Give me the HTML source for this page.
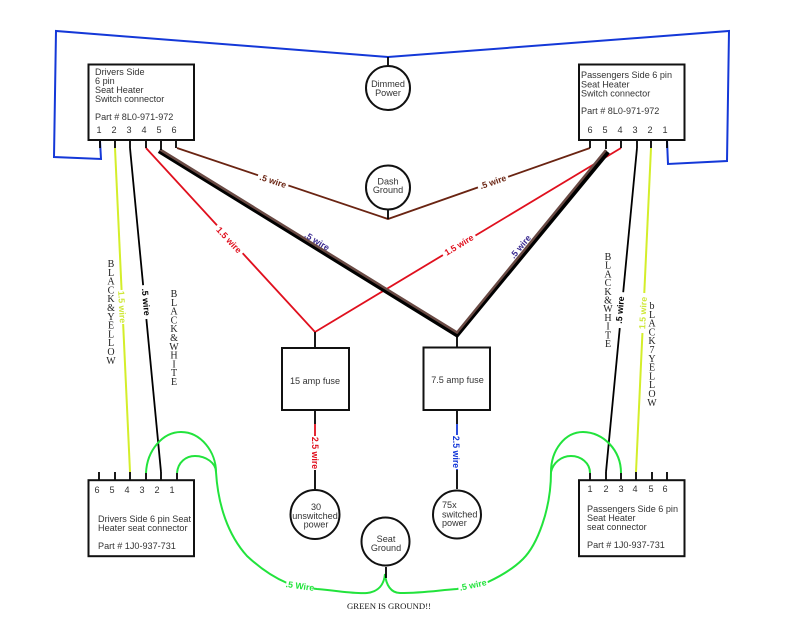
<!DOCTYPE html>
<html><head><meta charset="utf-8"><style>
html,body{margin:0;padding:0;background:#fff}
svg{display:block;filter:blur(.3px)}
.t{font:9.1px "Liberation Sans",sans-serif;fill:#333}
.m{text-anchor:middle}
.s{font:10px "Liberation Serif",serif;fill:#222;text-anchor:middle}
.w{font:bold 8.8px "Liberation Sans",sans-serif;text-anchor:middle}
</style></head><body>
<svg width="800" height="640" viewBox="0 0 800 640" xmlns="http://www.w3.org/2000/svg">
<rect width="800" height="640" fill="#fff"/>
<g transform="translate(316 243) rotate(31.500)"><text class="w" y="1" fill="#3a2a90">.5 wire</text></g>
<g transform="translate(522 248) rotate(-50)"><text class="w" y="1" fill="#3a2a90">.5 wire</text></g>
<g fill="none" stroke-linejoin="miter">
<!-- blue -->
<path d="M100 141L101 159L54 157L56 31L388 57L729 31L727 161L668 164L667 140" stroke="#1438d8" stroke-width="2"/>
<!-- brown -->
<path d="M177 148L388 219L590 148" stroke="#6a2412" stroke-width="1.800"/>
<!-- red -->
<path d="M146 148L315 332L621 148" stroke="#e0101e" stroke-width="1.800"/>
<!-- thick -->
<path d="M159 151L457 335L608 152" stroke="#000" stroke-width="4.500"/>
<path d="M160 149.500L457 332.500L606 150" stroke="#6a4a44" stroke-width="2.500"/>
<!-- yellow / black -->
<path d="M115 148L130 472" stroke="#d4ee2a" stroke-width="2"/>
<path d="M651 148L636 472" stroke="#d4ee2a" stroke-width="2"/>
<path d="M130 148L161 472" stroke="#000" stroke-width="1.800"/>
<path d="M637 148L606 472" stroke="#000" stroke-width="1.800"/>
<!-- green -->
<g stroke="#22e33c" stroke-width="2">
<path d="M146 473C147 450 163 432 181 432C201 432 216 452 216 472"/>
<path d="M177 473C178 462 186 456 195 456C206 456 216 463 216 472"/>
<path d="M216 472C218 505 228 535 247 556C262 570 275 578 287 583L300 587L317 589C340 591 355 594 367 593C378 592 384 585 385 574C386 585 391 593 400 593C425 593 440 590 457 589L473 585L488 582C505 574 515 567 523 559C537 545 551 510 551 472"/>
<path d="M551 472C551 450 565 432 583 432C603 432 621 450 621 473"/>
<path d="M551 472C553 463 561 456 571 456C581 456 590 463 590 473"/>
</g>
</g>
<!-- stems -->
<g stroke="#000" stroke-width="1.800" fill="none">
<path d="M100 140V148M115 140V148M130 140V148M146 140V148M161 140V150M176 140V148"/>
<path d="M590 140V148M606 140V149M621 140V148M637 140V148M651 140V148M667 140V148"/>
<path d="M99 472V480M115 472V480M130 472V480M146 473V480M161 472V480M177 473V480"/>
<path d="M590 473V480M606 472V480M621 473V480M636 472V480M652 472V480M667 472V480"/>
<path d="M388 57V66M388 210V219"/>
<path d="M315 332V348M457 334V347"/>
<path d="M315 410V424M315 470V489M457 410V424M457 470V489M386 567V578"/>
</g>
<path d="M315 424V470" stroke="#e0101e" stroke-width="1.800"/>
<path d="M457 424V470" stroke="#1438d8" stroke-width="1.800"/>
<!-- boxes -->
<g fill="#fff" stroke="#111" stroke-width="2">
<rect x="88.500" y="64.500" width="105.500" height="75.500"/>
<rect x="579" y="64.500" width="105.500" height="75.500"/>
<rect x="88.500" y="480.200" width="105.500" height="76"/>
<rect x="579" y="480.200" width="105.500" height="76"/>
<rect x="282" y="348" width="67" height="62"/>
<rect x="423.500" y="347.500" width="66.500" height="62.500"/>
<circle cx="388" cy="88" r="22"/>
<circle cx="388" cy="187.500" r="22"/>
<circle cx="315" cy="514.500" r="24.500"/>
<circle cx="457" cy="514.500" r="24"/>
<circle cx="385.500" cy="541.500" r="24"/>
</g>
<!-- label gaps + labels -->
<g fill="#fff">
<g transform="translate(273 181) rotate(18)"><rect x="-16" y="-6" width="32" height="12"/><text class="w" y="3" fill="#6a2412">.5 wire</text></g>
<g transform="translate(493 182) rotate(-19)"><rect x="-16" y="-6" width="32" height="12"/><text class="w" y="3" fill="#6a2412">.5 wire</text></g>
<g transform="translate(229 240) rotate(47)"><rect x="-19" y="-6" width="38" height="12"/><text class="w" y="3" fill="#e0101e">1.5 wire</text></g>
<g transform="translate(459 245) rotate(-31)"><rect x="-19" y="-6" width="38" height="12"/><text class="w" y="3" fill="#e0101e">1.5 wire</text></g>
<g transform="translate(122 307) rotate(87)"><rect x="-17" y="-5" width="34" height="10"/><text class="w" y="3" fill="#cfe83a">1.5 wire</text></g>
<g transform="translate(146 302) rotate(85)"><rect x="-17" y="-5" width="34" height="10"/><text class="w" y="3" fill="#000">.5 wire</text></g>
<g transform="translate(620 310) rotate(-85)"><rect x="-18" y="-5" width="36" height="10"/><text class="w" y="3" fill="#000">.5 wire</text></g>
<g transform="translate(643 313) rotate(-87)"><rect x="-20" y="-5" width="40" height="10"/><text class="w" y="3" fill="#cfe83a">1.5 wire</text></g>
<g transform="translate(315 453) rotate(90)"><rect x="-17" y="-5" width="34" height="10"/><text class="w" y="3" fill="#e0101e">2.5 wire</text></g>
<g transform="translate(456 452) rotate(90)"><rect x="-17" y="-5" width="34" height="10"/><text class="w" y="3" fill="#1438d8">2.5 wire</text></g>
<g transform="translate(300 586) rotate(8)"><rect x="-14" y="-6" width="28" height="12"/><text class="w" y="3" fill="#22e33c">.5 Wire</text></g>
<g transform="translate(473 585) rotate(-12)"><rect x="-15" y="-6" width="30" height="12"/><text class="w" y="3" fill="#22e33c">.5 wire</text></g>
</g>
<!-- box text -->
<text class="t" x="95" y="75">Drivers Side</text>
<text class="t" x="95" y="84">6 pin</text>
<text class="t" x="95" y="93">Seat Heater</text>
<text class="t" x="95" y="102">Switch connector</text>
<text class="t" x="95" y="120">Part # 8L0-971-972</text>
<text class="t m" x="99" y="133">1</text><text class="t m" x="114" y="133">2</text><text class="t m" x="129" y="133">3</text><text class="t m" x="144" y="133">4</text><text class="t m" x="159" y="133">5</text><text class="t m" x="174" y="133">6</text>
<text class="t" x="581" y="78">Passengers Side 6 pin</text>
<text class="t" x="581" y="87.500">Seat Heater</text>
<text class="t" x="581" y="96.500">Switch connector</text>
<text class="t" x="581" y="114">Part # 8L0-971-972</text>
<text class="t m" x="590" y="133">6</text><text class="t m" x="605" y="133">5</text><text class="t m" x="620" y="133">4</text><text class="t m" x="635" y="133">3</text><text class="t m" x="650" y="133">2</text><text class="t m" x="665" y="133">1</text>
<text class="t m" x="97" y="493">6</text><text class="t m" x="112" y="493">5</text><text class="t m" x="127" y="493">4</text><text class="t m" x="142" y="493">3</text><text class="t m" x="157" y="493">2</text><text class="t m" x="172" y="493">1</text>
<text class="t" x="98" y="522">Drivers Side 6 pin Seat</text>
<text class="t" x="98" y="531">Heater seat connector</text>
<text class="t" x="98" y="549">Part # 1J0-937-731</text>
<text class="t m" x="590" y="492">1</text><text class="t m" x="606" y="492">2</text><text class="t m" x="621" y="492">3</text><text class="t m" x="635" y="492">4</text><text class="t m" x="651" y="492">5</text><text class="t m" x="665" y="492">6</text>
<text class="t" x="587" y="512">Passengers Side 6 pin</text>
<text class="t" x="587" y="521">Seat Heater</text>
<text class="t" x="587" y="530">seat connector</text>
<text class="t" x="587" y="548">Part # 1J0-937-731</text>
<text class="t m" x="388" y="87">Dimmed</text><text class="t m" x="388" y="96">Power</text>
<text class="t m" x="388" y="184.500">Dash</text><text class="t m" x="388" y="193">Ground</text>
<text class="t m" x="315" y="384">15 amp fuse</text>
<text class="t m" x="457.500" y="383">7.5 amp fuse</text>
<text class="t m" x="316" y="510">30</text><text class="t m" x="315" y="519">unswitched</text><text class="t m" x="316" y="527.500">power</text>
<text class="t" x="442" y="508">75x</text><text class="t" x="442" y="517.500">switched</text><text class="t" x="442" y="526">power</text>
<text class="t m" x="386" y="542">Seat</text><text class="t m" x="386" y="551">Ground</text>
<!-- vertical serif -->
<text class="s"><tspan x="111" y="267">B</tspan><tspan x="111" dy="8.8">L</tspan><tspan x="111" dy="8.8">A</tspan><tspan x="111" dy="8.8">C</tspan><tspan x="111" dy="8.8">K</tspan><tspan x="111" dy="8.8">&amp;</tspan><tspan x="111" dy="8.8">Y</tspan><tspan x="111" dy="8.8">E</tspan><tspan x="111" dy="8.8">L</tspan><tspan x="111" dy="8.8">L</tspan><tspan x="111" dy="8.8">O</tspan><tspan x="111" dy="8.8">W</tspan></text>
<text class="s"><tspan x="174" y="297">B</tspan><tspan x="174" dy="8.8">L</tspan><tspan x="174" dy="8.8">A</tspan><tspan x="174" dy="8.8">C</tspan><tspan x="174" dy="8.8">K</tspan><tspan x="174" dy="8.8">&amp;</tspan><tspan x="174" dy="8.8">W</tspan><tspan x="174" dy="8.8">H</tspan><tspan x="174" dy="8.8">I</tspan><tspan x="174" dy="8.8">T</tspan><tspan x="174" dy="8.8">E</tspan></text>
<text class="s"><tspan x="608" y="260">B</tspan><tspan x="608" dy="8.7">L</tspan><tspan x="608" dy="8.7">A</tspan><tspan x="608" dy="8.7">C</tspan><tspan x="608" dy="8.7">K</tspan><tspan x="608" dy="8.7">&amp;</tspan><tspan x="608" dy="8.7">W</tspan><tspan x="608" dy="8.7">H</tspan><tspan x="608" dy="8.7">I</tspan><tspan x="608" dy="8.7">T</tspan><tspan x="608" dy="8.7">E</tspan></text>
<text class="s"><tspan x="652" y="309">b</tspan><tspan x="652" dy="8.8">L</tspan><tspan x="652" dy="8.8">A</tspan><tspan x="652" dy="8.8">C</tspan><tspan x="652" dy="8.8">K</tspan><tspan x="652" dy="8.8">7</tspan><tspan x="652" dy="8.8">Y</tspan><tspan x="652" dy="8.8">E</tspan><tspan x="652" dy="8.8">L</tspan><tspan x="652" dy="8.8">L</tspan><tspan x="652" dy="8.8">O</tspan><tspan x="652" dy="8.8">W</tspan></text>
<text x="347" y="609" textLength="84" lengthAdjust="spacingAndGlyphs" style="font:8px 'Liberation Serif',serif;fill:#111">GREEN IS GROUND!!</text>
</svg>
</body></html>
